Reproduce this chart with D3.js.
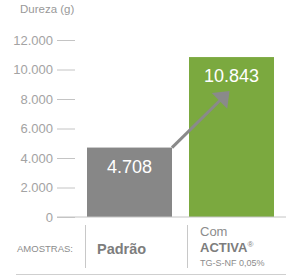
<!DOCTYPE html>
<html>
<head>
<meta charset="utf-8">
<script src="https://cdn.jsdelivr.net/npm/d3@7"></script>
<style>
  body { margin: 0; background: #fff; }
  svg { display: block; font-family: "Liberation Sans", Arial, sans-serif; }
</style>
</head>
<body>
<div id="chart"></div>
<script>
// Données
const categories = ["Padrão", "Com"];
const values = [4708, 10843];
const barColors = ["#878787", "#7ba93f"];
const yTicks = [0, 2000, 4000, 6000, 8000, 10000, 12000];

const width = 300, height = 280;

// Format brésilien : 10.843
const ptBR = d3.formatLocale({decimal: ",", thousands: ".", grouping: [3], currency: ["R$", ""]});
const fmt = ptBR.format(",.0f");

const svg = d3.select("#chart").append("svg")
    .attr("width", width)
    .attr("height", height);

const y = d3.scaleLinear().domain([0, 12000]).range([217, 40]);
const x = d3.scaleBand().domain(categories).range([87, 274]).paddingInner(17 / 102).paddingOuter(0);

// Titre de l'axe
svg.append("text")
    .attr("x", 20).attr("y", 13)
    .style("font-size", "11.5px")
    .style("fill", "#999")
    .text("Dureza (g)");

// Axe Y
const yAxis = svg.append("g")
    .attr("transform", "translate(75,0)")
    .call(d3.axisLeft(y).tickValues(yTicks).tickSize(18).tickPadding(4).tickFormat(fmt));
yAxis.select(".domain").remove();
yAxis.selectAll(".tick line").attr("stroke", "#c4c4c4");
yAxis.selectAll(".tick text")
    .style("font-size", "13px")
    .style("fill", "#a3a3a3")
    .style("font-family", "'Liberation Sans', Arial, sans-serif");

// Barres
svg.selectAll(".bar")
    .data(values)
    .enter().append("rect")
    .attr("class", "bar")
    .attr("x", (d, i) => x(categories[i]))
    .attr("y", d => y(d))
    .attr("width", x.bandwidth())
    .attr("height", d => y(0) - y(d))
    .attr("fill", (d, i) => barColors[i]);

// Ligne de base
svg.append("line")
    .attr("x1", 57).attr("x2", 286)
    .attr("y1", y(0)).attr("y2", y(0))
    .attr("stroke", "#c4c4c4");

// Valeurs
svg.selectAll(".val")
    .data(values)
    .enter().append("text")
    .attr("class", "val")
    .attr("x", (d, i) => x(categories[i]) + x.bandwidth() / 2)
    .attr("y", d => y(d) + 25)
    .attr("text-anchor", "middle")
    .style("font-size", "18px")
    .style("fill", "#fff")
    .text(d => fmt(d));

// Flèche
const x0 = x(categories[0]) + x.bandwidth(), y0 = y(values[0]);
const x1 = x(categories[1]) + x.bandwidth() / 2 - 2, y1 = y(values[1]) + 34;
const ang = Math.atan2(y1 - y0, x1 - x0);
const headLen = 14, headW = 11;
const bx = x1 - headLen * Math.cos(ang), by = y1 - headLen * Math.sin(ang);
svg.append("line")
    .attr("x1", x0).attr("y1", y0)
    .attr("x2", bx + 2 * Math.cos(ang)).attr("y2", by + 2 * Math.sin(ang))
    .attr("stroke", "#8a8a8a")
    .attr("stroke-width", 3);
svg.append("polygon")
    .attr("points", [
        [x1, y1],
        [bx - headW * Math.sin(ang), by + headW * Math.cos(ang)],
        [bx + headW * Math.sin(ang), by - headW * Math.cos(ang)]
    ].map(p => p.join(",")).join(" "))
    .attr("fill", "#8a8a8a");

// Bas : AMOSTRAS
svg.append("text")
    .attr("x", 17).attr("y", 252)
    .style("font-size", "9.5px")
    .style("fill", "#8c8c8c")
    .text("AMOSTRAS:");

svg.selectAll(".sep")
    .data(categories)
    .enter().append("line")
    .attr("class", "sep")
    .attr("x1", d => x(d) - 1.5).attr("x2", d => x(d) - 1.5)
    .attr("y1", 225).attr("y2", 268)
    .attr("stroke", "#c8c8c8");

svg.append("line")
    .attr("x1", 16).attr("x2", 286)
    .attr("y1", 274.5).attr("y2", 274.5)
    .attr("stroke", "#cfcfcf");

svg.append("text")
    .attr("x", x(categories[0]) + 10).attr("y", 254)
    .style("font-size", "14.5px")
    .style("font-weight", "bold")
    .style("fill", "#7d7d7d")
    .text(categories[0]);

const cx = x(categories[1]) + 11;
svg.append("text")
    .attr("x", cx).attr("y", 236)
    .style("font-size", "13px")
    .style("fill", "#8c8c8c")
    .text(categories[1]);

const activa = svg.append("text")
    .attr("x", cx).attr("y", 252)
    .style("font-size", "13px")
    .style("font-weight", "bold")
    .style("fill", "#7d7d7d");
activa.append("tspan").text("ACTIVA");
activa.append("tspan")
    .attr("dy", -5)
    .style("font-size", "8px")
    .style("font-weight", "normal")
    .text("®");

svg.append("text")
    .attr("x", cx).attr("y", 266)
    .style("font-size", "9px")
    .style("fill", "#8c8c8c")
    .text("TG-S-NF 0,05%");
</script>
</body>
</html>
